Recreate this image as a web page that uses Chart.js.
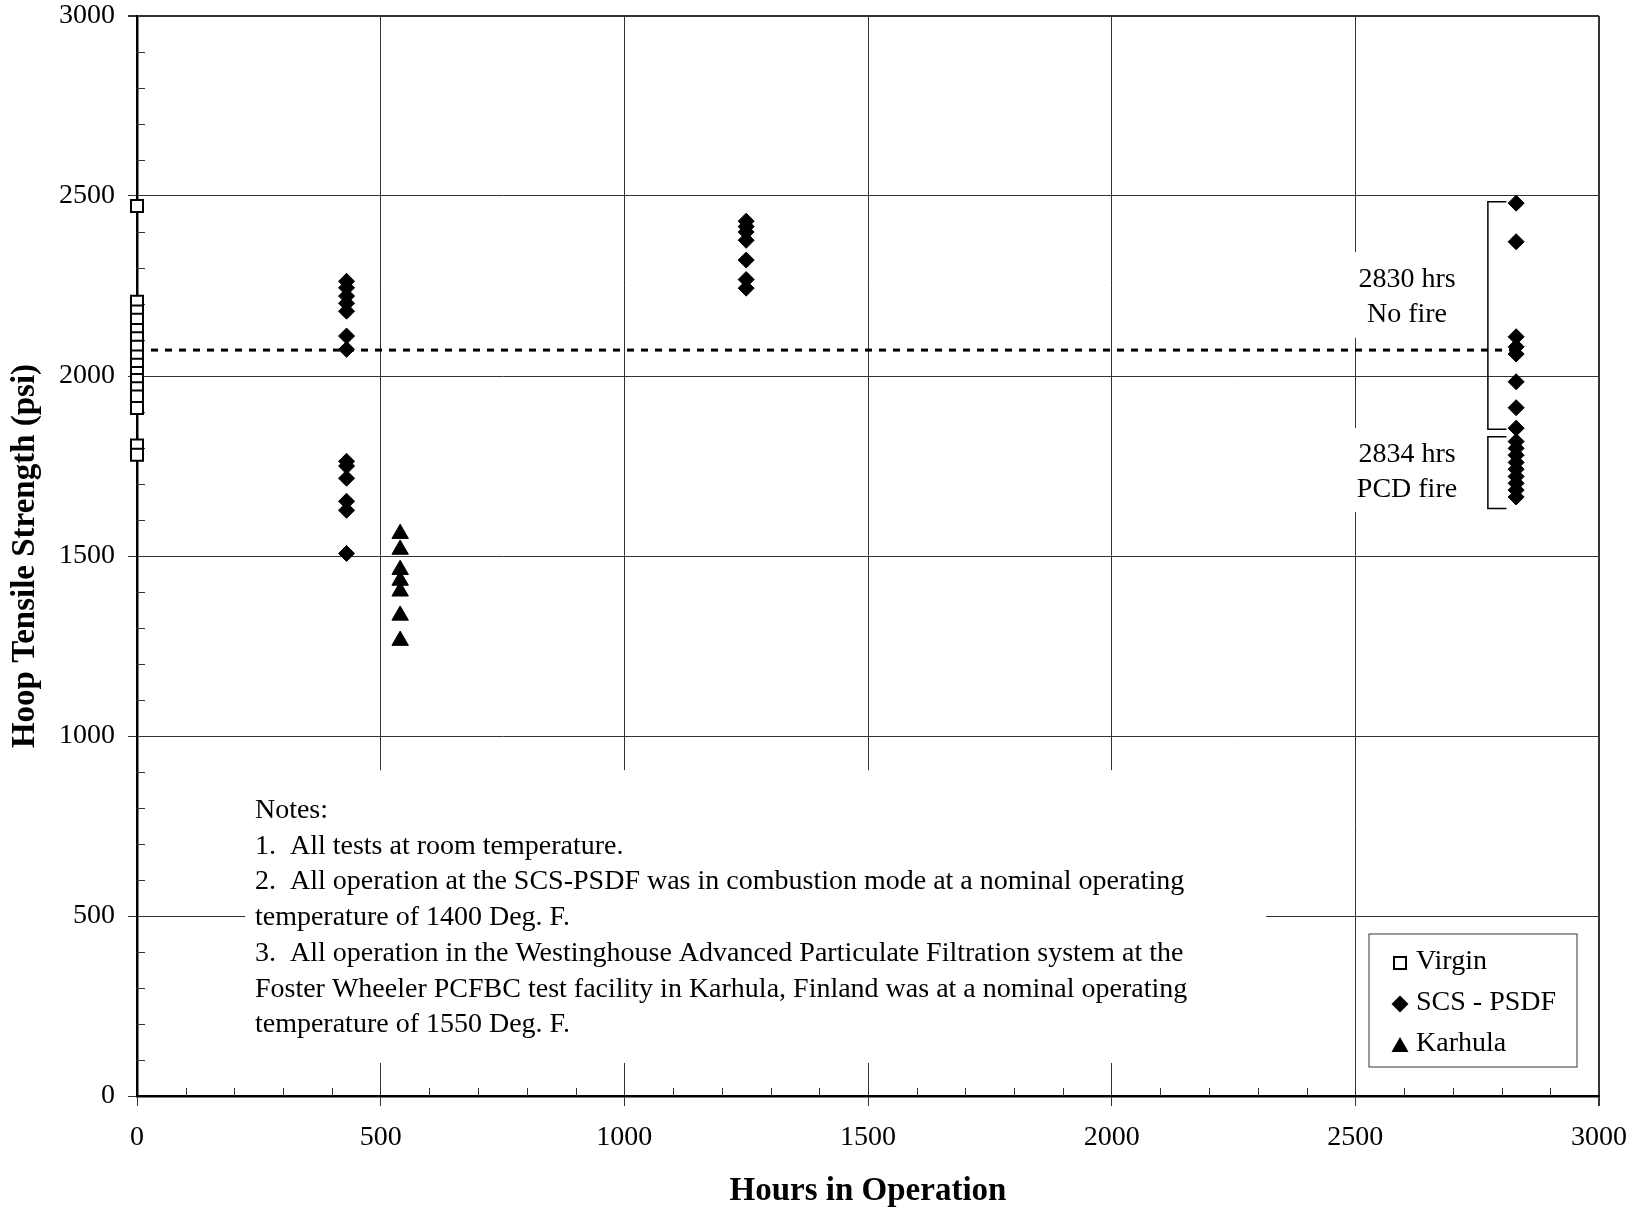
<!DOCTYPE html>
<html>
<head>
<meta charset="utf-8">
<script src="https://cdn.jsdelivr.net/npm/chart.js@4.4.1/dist/chart.umd.min.js"></script>
<style>
  html, body { margin: 0; padding: 0; background: #fff; }
  #wrap { width: 1638px; height: 1211px; position: relative; }
</style>
</head>
<body>
<div id="wrap"><canvas id="chart"></canvas></div>
<script>
const SERIF = "'Liberation Serif', 'Times New Roman', Times, serif";

// hours in operation for each group of test specimens
const virginHours = 0;
const psdfHours = [430, 1250, 2830];
const karhulaHours = 540;

// hoop tensile strength (psi)
const virginStrength = [2472, 2206, 2179, 2156, 2128, 2105, 2081, 2054, 2031, 2008, 1989, 1966, 1943, 1911, 1807, 1781];
const psdfAt430 = [2263, 2245, 2222, 2202, 2180, 2111, 2074, 1763, 1750, 1716, 1652, 1627, 1507];
const psdfAt1250 = [2430, 2415, 2400, 2377, 2322, 2268, 2244];
const psdfAt2830 = [2480, 2373, 2109, 2081, 2061, 1984, 1912, 1855, 1818, 1799, 1780, 1760, 1741, 1721, 1702, 1683, 1664];
const karhulaStrength = [1562, 1518, 1462, 1432, 1402, 1335, 1265];

// average virgin strength, drawn as a dotted reference line
const virginMean = 2072;
const meanLineHours = [0, 2830];

// brackets grouping the 2830 / 2834 hr results
const bracketHours = [2772, 2810];
const noFireRange = [1852, 2484];
const pcdFireRange = [1632, 1831];

const axisTicks = [0, 500, 1000, 1500, 2000, 2500, 3000];

const noteLines = [
  'Notes:',
  '1.  All tests at room temperature.',
  '2.  All operation at the SCS-PSDF was in combustion mode at a nominal operating',
  'temperature of 1400 Deg. F.',
  '3.  All operation in the Westinghouse Advanced Particulate Filtration system at the',
  'Foster Wheeler PCFBC test facility in Karhula, Finland was at a nominal operating',
  'temperature of 1550 Deg. F.'
];

const legendItems = [
  { label: 'Virgin', style: 'rect' },
  { label: 'SCS - PSDF', style: 'rectRot' },
  { label: 'Karhula', style: 'triangle' }
];

const toPoints = (hours, values) => values.map(v => ({ x: hours, y: v }));

function marker(ctx, style, x, y) {
  ctx.beginPath();
  if (style === 'rect') {
    ctx.rect(x - 6, y - 6, 12, 12);
    ctx.fillStyle = '#fff';
    ctx.fill();
    ctx.lineWidth = 2;
    ctx.strokeStyle = '#000';
    ctx.stroke();
    return;
  }
  if (style === 'rectRot') {
    ctx.moveTo(x, y - 8.5); ctx.lineTo(x + 8.5, y); ctx.lineTo(x, y + 8.5); ctx.lineTo(x - 8.5, y);
  } else {
    ctx.moveTo(x, y - 8); ctx.lineTo(x + 8.5, y + 7); ctx.lineTo(x - 8.5, y + 7);
  }
  ctx.closePath();
  ctx.fillStyle = '#000';
  ctx.fill();
}

const decorations = {
  id: 'decorations',
  beforeDatasetsDraw(chart) {
    const { ctx, chartArea: a, scales: { x, y } } = chart;
    ctx.save();
    // minor ticks every 100 on both axes, pointing inward
    ctx.strokeStyle = '#333';
    ctx.lineWidth = 1;
    ctx.beginPath();
    for (let v = 100; v < 3000; v += 100) {
      if (v % 500 === 0) continue;
      const px = Math.round(x.getPixelForValue(v)) + 0.5;
      ctx.moveTo(px, a.bottom);
      ctx.lineTo(px, a.bottom - 8);
      const py = Math.round(y.getPixelForValue(v)) + 0.5;
      ctx.moveTo(a.left, py);
      ctx.lineTo(a.left + 8, py);
    }
    ctx.stroke();

    // white panels under the notes and the bracket labels
    ctx.fillStyle = '#fff';
    const panel = (x0, x1, y0, y1) => {
      const l = x.getPixelForValue(x0), r = x.getPixelForValue(x1);
      const t = y.getPixelForValue(y1), b = y.getPixelForValue(y0);
      ctx.fillRect(l, t, r - l, b - t);
    };
    panel(222, 2317, 92, 905);
    panel(2469, 2744, 2106, 2344);
    panel(2469, 2744, 1622, 1856);
    ctx.restore();
  },
  afterDatasetsDraw(chart) {
    const { ctx, chartArea: a, scales: { x, y } } = chart;
    ctx.save();
    ctx.fillStyle = '#000';
    ctx.font = '28px ' + SERIF;
    ctx.textBaseline = 'alphabetic';

    // notes
    ctx.textAlign = 'left';
    const nx = x.getPixelForValue(242);
    const ny = y.getPixelForValue(772);
    noteLines.forEach((line, i) => ctx.fillText(line, nx, ny + i * 35.7));

    // bracket labels
    ctx.textAlign = 'center';
    const cx = x.getPixelForValue(2606);
    ctx.fillText('2830 hrs', cx, y.getPixelForValue(2248));
    ctx.fillText('No fire', cx, y.getPixelForValue(2151));
    ctx.fillText('2834 hrs', cx, y.getPixelForValue(1762));
    ctx.fillText('PCD fire', cx, y.getPixelForValue(1665));

    // brackets
    ctx.strokeStyle = '#000';
    ctx.lineWidth = 1.5;
    const bx = x.getPixelForValue(bracketHours[0]);
    const tx = x.getPixelForValue(bracketHours[1]);
    [noFireRange, pcdFireRange].forEach(([lo, hi]) => {
      const yt = y.getPixelForValue(hi), yb = y.getPixelForValue(lo);
      ctx.beginPath();
      ctx.moveTo(tx, yt); ctx.lineTo(bx, yt); ctx.lineTo(bx, yb); ctx.lineTo(tx, yb);
      ctx.stroke();
    });

    // legend box
    const lw = 208, lh = 133;
    const lx = a.right - 22 - lw, ly = a.bottom - 29 - lh;
    ctx.fillStyle = '#fff';
    ctx.fillRect(lx, ly, lw, lh);
    ctx.strokeStyle = '#555';
    ctx.lineWidth = 1.2;
    ctx.strokeRect(lx, ly, lw, lh);
    ctx.textAlign = 'left';
    legendItems.forEach((item, i) => {
      const my = ly + 29 + i * 41;
      marker(ctx, item.style, lx + 31, my);
      ctx.fillStyle = '#000';
      ctx.font = '28px ' + SERIF;
      ctx.fillText(item.label, lx + 47, my + 5.5);
    });
    ctx.restore();
  }
};

new Chart(document.getElementById('chart'), {
  type: 'scatter',
  data: {
    datasets: [
      {
        label: 'Virgin',
        data: toPoints(virginHours, virginStrength),
        pointStyle: 'rect',
        pointRadius: 8.5,
        backgroundColor: '#fff',
        borderColor: '#000',
        borderWidth: 2,
        clip: false
      },
      {
        label: 'SCS - PSDF',
        data: [
          ...toPoints(psdfHours[0], psdfAt430),
          ...toPoints(psdfHours[1], psdfAt1250),
          ...toPoints(psdfHours[2], psdfAt2830)
        ],
        pointStyle: 'rectRot',
        pointRadius: 8,
        backgroundColor: '#000',
        borderColor: '#000',
        borderWidth: 1,
        clip: false
      },
      {
        label: 'Karhula',
        data: toPoints(karhulaHours, karhulaStrength),
        pointStyle: 'triangle',
        pointRadius: 9.5,
        backgroundColor: '#000',
        borderColor: '#000',
        borderWidth: 1,
        clip: false
      },
      {
        label: 'Virgin mean',
        data: meanLineHours.map(h => ({ x: h, y: virginMean })),
        showLine: true,
        pointRadius: 0,
        borderColor: '#000',
        borderWidth: 3,
        borderDash: [7, 7],
        clip: false
      }
    ]
  },
  options: {
    responsive: true,
    maintainAspectRatio: false,
    animation: false,
    layout: { padding: { top: 16, right: 39, left: 0, bottom: 0 } },
    plugins: {
      legend: { display: false },
      tooltip: { enabled: false }
    },
    scales: {
      x: {
        type: 'linear',
        min: 0,
        max: 3000,
        afterFit: s => {
          s.height = 115;
          s.paddingLeft = 0;
          s.paddingRight = 0;
        },
        afterBuildTicks: s => { s.ticks = axisTicks.map(v => ({ value: v })); },
        ticks: {
          stepSize: 500,
          padding: 15,
          color: '#000',
          font: { family: SERIF, size: 28 },
          maxRotation: 0,
          callback: v => String(v)
        },
        grid: {
          color: '#333',
          lineWidth: c => (c.tick && c.tick.value === 3000 ? 2 : 1),
          tickLength: 10
        },
        border: { color: '#000', width: 2.5 },
        title: {
          display: true,
          text: 'Hours in Operation',
          color: '#000',
          font: { family: SERIF, size: 33, weight: 'bold' },
          padding: { top: 0, bottom: 0 }
        }
      },
      y: {
        type: 'linear',
        min: 0,
        max: 3000,
        afterFit: s => {
          s.width = 137;
          s.paddingTop = 0;
          s.paddingBottom = 0;
        },
        afterBuildTicks: s => { s.ticks = axisTicks.map(v => ({ value: v })); },
        ticks: {
          stepSize: 500,
          padding: 13,
          color: '#000',
          font: { family: SERIF, size: 28 },
          callback: v => String(v)
        },
        grid: {
          color: '#333',
          lineWidth: c => (c.tick && c.tick.value === 3000 ? 2 : 1),
          tickLength: 9
        },
        border: { color: '#000', width: 2.5 },
        title: {
          display: true,
          text: 'Hoop Tensile Strength (psi)',
          color: '#000',
          font: { family: SERIF, size: 33, weight: 'bold' },
          padding: { top: 6, bottom: 0 }
        }
      }
    }
  },
  plugins: [decorations]
});
</script>
</body>
</html>
